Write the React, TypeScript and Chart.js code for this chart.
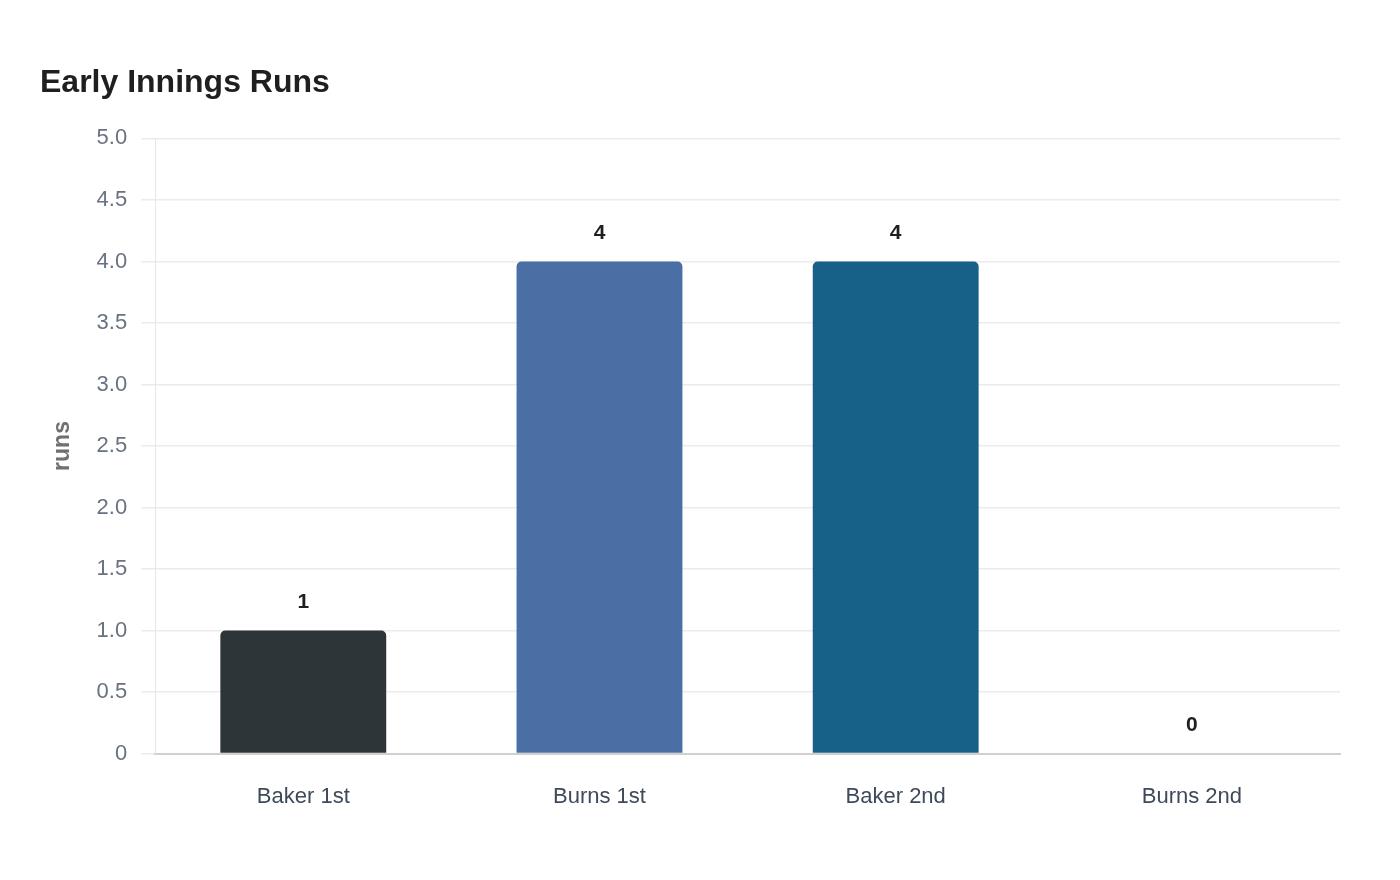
import { useEffect, useRef } from 'react';
import Chart from 'chart.js/auto';

const categories = ['Baker 1st', 'Burns 1st', 'Baker 2nd', 'Burns 2nd'];
const runs = [1, 4, 4, 0];
const barColors = ['#2e3538', '#4a6fa5', '#176087', '#4a6fa5'];

const FONT = '"Liberation Sans", Arial, sans-serif';

// draws the value above each bar
const valueLabels = {
  id: 'valueLabels',
  afterDatasetsDraw(chart: Chart) {
    const ctx = chart.ctx;
    const meta = chart.getDatasetMeta(0);
    ctx.save();
    ctx.font = 'bold 21px ' + FONT;
    ctx.fillStyle = '#1f1f1f';
    ctx.textAlign = 'center';
    ctx.textBaseline = 'middle';
    meta.data.forEach((bar: any, i: number) => {
      ctx.fillText(String(runs[i]), bar.x, bar.y - 28);
    });
    ctx.restore();
  },
};

const App = () => {
  const chartRef = useRef<HTMLCanvasElement | null>(null);
  const chartInstance = useRef<Chart | null>(null);

  useEffect(() => {
    if (!chartRef.current) return;
    if (chartInstance.current) chartInstance.current.destroy();
    const ctx = chartRef.current.getContext('2d');
    if (!ctx) return;

    chartInstance.current = new Chart(ctx, {
      type: 'bar',
      data: {
        labels: categories,
        datasets: [{
          label: 'runs',
          data: runs,
          backgroundColor: barColors,
          borderRadius: { topLeft: 5, topRight: 5 },
          borderSkipped: 'bottom',
          barPercentage: 0.56,
          categoryPercentage: 1,
        }],
      },
      options: {
        responsive: false,
        animation: false,
        layout: { padding: { left: 40, right: 60, top: 64, bottom: 48 } },
        font: { family: FONT },
        plugins: {
          legend: { display: false },
          tooltip: { enabled: false },
          title: {
            display: true,
            text: 'Early Innings Runs',
            align: 'start',
            color: '#1f1f1f',
            font: { size: 32, weight: 'bold', family: FONT },
            padding: { top: 0, bottom: 36 },
          },
        },
        scales: {
          x: {
            grid: { display: false },
            border: { color: '#d0d0d0', width: 2 },
            ticks: {
              color: '#3e4a5a',
              padding: 22,
              font: { size: 22, family: FONT },
            },
          },
          y: {
            min: 0,
            max: 5,
            ticks: {
              stepSize: 0.5,
              color: '#687280',
              padding: 14,
              font: { size: 22, family: FONT },
              callback: (v: any) => (v === 0 ? '0' : Number(v).toFixed(1)),
            },
            grid: { color: '#ebebeb', tickLength: 14, lineWidth: 1.5 },
            border: { color: '#e6e6e6', width: 1 },
            title: {
              display: true,
              text: 'runs',
              color: '#707070',
              padding: { top: 9, bottom: 6 },
              font: { size: 23, weight: 'bold', family: FONT },
            },
          },
        },
      },
      plugins: [valueLabels],
    });

    return () => {
      if (chartInstance.current) {
        chartInstance.current.destroy();
        chartInstance.current = null;
      }
    };
  }, []);

  return (
    <div style={{ position: 'absolute', left: 0, top: 0, width: 1400, height: 880, background: '#fff' }}>
      <canvas ref={chartRef} width={1400} height={880} style={{ width: 1400, height: 880 }} />
    </div>
  );
};

export default App;
